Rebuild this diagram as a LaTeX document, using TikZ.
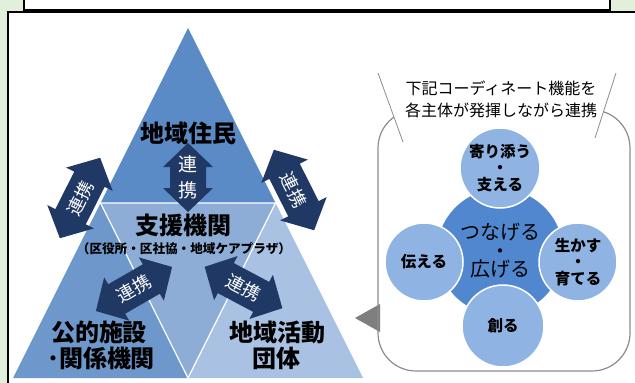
\documentclass[tikz,border=0pt]{standalone}
\usepackage{fontspec}
\newfontfamily\jp{Noto Sans CJK JP}
\definecolor{greenbg}{HTML}{E2EFDA}
\definecolor{navy}{HTML}{1F3864}
\definecolor{ttop}{HTML}{5B8BC6}
\definecolor{tleft}{HTML}{6E97CB}
\definecolor{tmid}{HTML}{8DADD7}
\definecolor{tright}{HTML}{A9C1E2}
\definecolor{cmain}{HTML}{5187CF}
\definecolor{clight}{HTML}{8FB4E3}
\definecolor{panelgray}{HTML}{8C8C8C}
\definecolor{ptrgray}{HTML}{7F7F7F}
\newcommand\myDblArrow[3]{% half-length, head half-width, shaft half-width
  \fill[navy] (-#1,0) -- ({-#1+24},-#2) -- ({-#1+24},-#3) -- ({#1-24},-#3) -- ({#1-24},-#2) -- (#1,0)
    -- ({#1-24},#2) -- ({#1-24},#3) -- ({-#1+24},#3) -- ({-#1+24},#2) -- cycle;}
\tikzset{
  bigtext/.style={font=\jp\bfseries\fontsize{24}{26}\selectfont, text=black, inner sep=0pt},
  arrowtext/.style={font=\jp\fontsize{18}{20}\selectfont, text=white, inner sep=0pt},
  calltext/.style={font=\jp\fontsize{16}{22}\selectfont, text=black, inner sep=0pt, align=center},
  sat/.style={circle, fill=clight, draw=white, line width=1.5pt, minimum size=80pt, inner sep=0pt,
    align=center, font=\jp\bfseries\fontsize{15.5}{16.5}\selectfont},
}
\begin{document}
\begin{tikzpicture}[x=1pt,y=-1pt]
\useasboundingbox (0,0) rectangle (635,383);
\fill[greenbg] (0,0) rectangle (635,383);
\filldraw[fill=white, draw=black, line width=1.3pt] (8,12) rectangle (650,400);
\filldraw[fill=white, draw=black, line width=1.1pt] (24,-10) rectangle (610,10);

% triangle
\coordinate (A) at (188,28);
\coordinate (B) at (13,378);
\coordinate (C) at (363,378);
\coordinate (AB) at (100.5,203);
\coordinate (AC) at (275.5,203);
\coordinate (BC) at (188,378);
\fill[ttop] (A) -- (AB) -- (AC) -- cycle;
\fill[tleft] (AB) -- (B) -- (BC) -- cycle;
\fill[tright] (AC) -- (BC) -- (C) -- cycle;
\fill[tmid] (AB) -- (AC) -- (BC) -- cycle;
\draw[white, line width=1.2pt] (AB) -- (AC) -- (BC) -- cycle;

\node[bigtext] (jumin) at (188,133) {地域住民};
\node[bigtext] (shien) at (183,225) {支援機関};
\node[font=\jp\bfseries\fontsize{12.6}{14}\selectfont, inner sep=0pt] (shiensub) at (184,249) {（区役所・区社協・地域ケアプラザ）};
\node[bigtext] (kouteki1) at (99,332) {公的施設};
\node[bigtext] (kouteki2) at (101,358) {･関係機関};
\node[bigtext] (katsudo1) at (277,332) {地域活動};
\node[bigtext] (katsudo2) at (276,358) {団体};

% central vertical arrow
\begin{scope}[shift={(188,177.5)}, rotate=90]
  \myDblArrow{34.5}{25}{18}
\end{scope}
\node[arrowtext, align=center, font=\jp\fontsize{19}{26}\selectfont] (rc) at (188,177.5) {連\\携};

% left outer arrow
\begin{scope}[shift={(80,198)}, rotate=63.4]
  \myDblArrow{45}{26}{17}
\end{scope}
\node[arrowtext, rotate=63.4] (rl) at (80,198) {連携};

% right outer arrow
\begin{scope}[shift={(294,190)}, rotate=-63.4]
  \myDblArrow{45}{26}{17}
\end{scope}
\node[arrowtext, rotate=-63.4] (rr) at (294,190) {連携};

% lower left arrow
\begin{scope}[shift={(134,289)}, rotate=30]
  \myDblArrow{44}{25}{17}
\end{scope}
\node[arrowtext, rotate=30] (rll) at (134,289) {連携};

% lower right arrow
\begin{scope}[shift={(243.5,287.5)}, rotate=-28]
  \myDblArrow{44}{25}{17}
\end{scope}
\node[arrowtext, rotate=-28] (rlr) at (243.5,287.5) {連携};

% right panel
\fill[ptrgray] (355,318) -- (380,304) -- (380,332) -- cycle;
\draw[panelgray, line width=1.2pt, rounded corners=38pt] (378,110) rectangle (630,371);
\fill[white] (378,73) -- (403,142) -- (595,138) -- (616,73) -- cycle;
\draw[panelgray, line width=0.8pt] (378,73) -- (403,142);
\draw[panelgray, line width=0.8pt] (616,73) -- (595,138);
\node[calltext] (call) at (501,99) {下記コーディネート機能を\\各主体が発揮しながら連携};

\node[circle, fill=cmain, minimum size=126pt, inner sep=0pt] (hub) at (500,252) {};
\node[align=center, font=\jp\fontsize{20}{18.5}\selectfont, inner sep=0pt] (hubtext) at (500,251) {つなげる\\・\\広げる};
\node[sat] (s1) at (500,168) {寄り添う\\・\\支える};
\node[sat, minimum size=78pt] (s2) at (424,262) {伝える};
\node[sat, minimum size=78pt] (s3) at (578,262) {生かす\\・\\育てる};
\node[sat, minimum size=82pt] (s4) at (503,326) {創る};
\end{tikzpicture}
\end{document}
